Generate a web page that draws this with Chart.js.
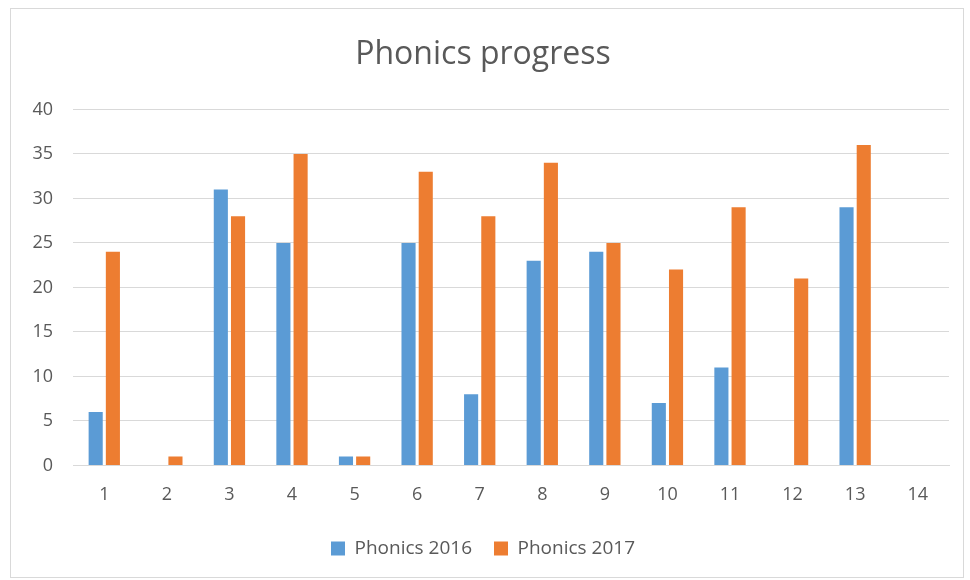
<!DOCTYPE html>
<html>
<head>
<meta charset="utf-8">
<script src="https://cdn.jsdelivr.net/npm/chart.js@4/dist/chart.umd.min.js"></script>
<style>
  html, body { margin: 0; padding: 0; background: #fff; }
  #box {
    position: absolute; left: 10px; top: 8px;
    width: 954px; height: 570px;
    border: 1px solid #d9d9d9; box-sizing: border-box;
  }
</style>
</head>
<body>
<div id="box"><canvas id="c"></canvas></div>
<script>
const categories = ['1', '2', '3', '4', '5', '6', '7', '8', '9', '10', '11', '12', '13', '14']
const phonics2016 = [6, 0, 31, 25, 1, 25, 8, 23, 24, 7, 11, 0, 29, 0]
const phonics2017 = [24, 1, 28, 35, 1, 33, 28, 34, 25, 22, 29, 21, 36, 0]

const font = '"Open Sans", "Noto Sans", sans-serif'
const textColor = '#595959'

new Chart(document.getElementById('c'), {
  type: 'bar',
  data: {
    labels: categories,
    datasets: [
      { label: 'Phonics 2016', data: phonics2016, backgroundColor: '#5b9bd5' },
      { label: 'Phonics 2017', data: phonics2017, backgroundColor: '#ed7d31' }
    ]
  },
  options: {
    responsive: true,
    maintainAspectRatio: false,
    animation: false,
    datasets: { bar: { categoryPercentage: 0.55, barPercentage: 0.82 } },
    layout: { padding: { left: 6, right: 14, top: 27, bottom: 9 } },
    plugins: {
      title: {
        display: true,
        text: 'Phonics progress',
        color: textColor,
        font: { family: font, size: 32, weight: 'normal' },
        padding: { top: 0, bottom: 35 }
      },
      legend: {
        position: 'bottom',
        labels: {
          color: textColor,
          font: { family: font, size: 19 },
          boxWidth: 14,
          boxHeight: 14,
          padding: 22
        }
      },
      tooltip: { enabled: false }
    },
    scales: {
      x: {
        grid: { display: false },
        border: { color: '#d9d9d9' },
        ticks: { color: textColor, font: { family: font, size: 18 }, padding: 11 }
      },
      y: {
        min: 0,
        max: 40,
        ticks: { stepSize: 5, color: textColor, font: { family: font, size: 18 }, padding: 20 },
        grid: { color: '#d9d9d9', drawTicks: false },
        border: { display: false },
        afterFit: axis => { axis.width = 56 }
      }
    }
  }
})
</script>
</body>
</html>
